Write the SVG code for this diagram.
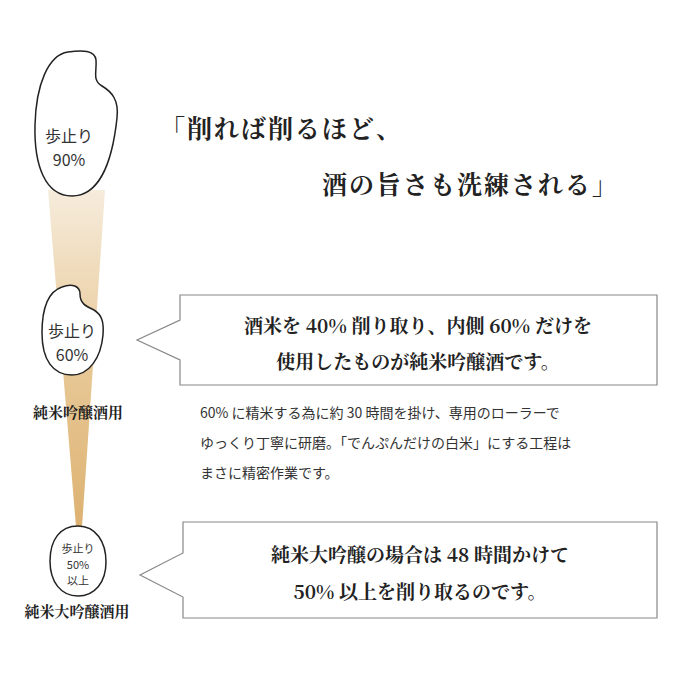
<svg xmlns="http://www.w3.org/2000/svg" width="700" height="700" viewBox="0 0 700 700">
<defs>
<linearGradient id="fg" x1="0" y1="0" x2="0" y2="1">
<stop offset="0" stop-color="#f6ecdc"/><stop offset="0.5" stop-color="#e8c998"/><stop offset="1" stop-color="#ddb272"/>
</linearGradient>
<style>
.g{fill:#fff;stroke:#222;stroke-width:1.5}
.gt{font-family:"Noto Sans CJK JP","Noto Sans",sans-serif;fill:#333;text-anchor:middle}
.b{font-family:"Noto Sans CJK JP","Noto Sans",sans-serif;fill:#333;font-size:14px}
.s{font-family:"Noto Serif CJK JP","Noto Sans CJK JP",serif;fill:#222}
.m{text-anchor:middle}
.c{fill:#fff;stroke:#888;stroke-width:1.2}
</style>
</defs>
<rect width="700" height="700" fill="#fff"/>
<polygon points="48,190 105,190 82,527 76,527" fill="url(#fg)"/>
<g id="grain1">
<path class="g" d="M68,52 C82,50 95,50 96,60 C97,72 92,80 102,86 C112,92 119,100 117,118 C112,165 98,196 72,196 C45,196 34,165 35,125 C36,85 48,55 68,52 Z"/>
<text class="gt" x="69" y="142" font-size="16">歩止り</text>
<text class="gt" x="69" y="166" font-size="16">90%</text>
</g>
<g id="grain2">
<path class="g" d="M62,287 C72,283 80,286 80,294 C80,303 85,306 94,310 C102,315 104,322 103,335 C101,358 89,375 72,375 C53,375 42,360 42,333 C42,305 50,291 62,287 Z"/>
<text class="gt" x="72" y="337" font-size="16">歩止り</text>
<text class="gt" x="72" y="361" font-size="16">60%</text>
<text class="s m" x="78" y="418" font-size="15" font-weight="bold">純米吟醸酒用</text>
</g>
<g id="grain3">
<path class="g" d="M78,526 C96,526 106,542 106,562 C106,582 95,596 78,596 C61,596 50,582 50,561 C50,540 60,526 78,526 Z"/>
<text class="gt" x="78" y="553" font-size="11">歩止り</text>
<text class="gt" x="78" y="569" font-size="11">50%</text>
<text class="gt" x="78" y="585" font-size="11">以上</text>
<text class="s m" x="77" y="617" font-size="15" font-weight="bold">純米大吟醸酒用</text>
</g>
<g id="title">
<text class="s" x="160" y="138" font-size="25" font-weight="bold" letter-spacing="2">「削れば削るほど、</text>
<text class="s" x="322" y="194" font-size="25" font-weight="bold" letter-spacing="2">酒の旨さも洗練される」</text>
</g>
<g id="callout1">
<path class="c" d="M180,295 H657 V385 H180 V360 L137,340 L180,320 Z"/>
<text class="s m" x="418" y="333" font-size="19" font-weight="bold">酒米を 40% 削り取り、内側 60% だけを</text>
<text class="s m" x="418" y="369" font-size="19" font-weight="bold">使用したものが純米吟醸酒です。</text>
</g>
<g id="body">
<text class="b" x="200" y="418">60% に精米する為に約 30 時間を掛け、専用のローラーで</text>
<text class="b" x="200" y="448">ゆっくり丁寧に研磨。「でんぷんだけの白米」にする工程は</text>
<text class="b" x="200" y="478">まさに精密作業です。</text>
</g>
<g id="callout2">
<path class="c" d="M183,522 H657 V618 H183 V597 L140,575 L183,553 Z"/>
<text class="s m" x="420" y="562" font-size="19" font-weight="bold">純米大吟醸の場合は 48 時間かけて</text>
<text class="s m" x="420" y="599" font-size="19" font-weight="bold">50% 以上を削り取るのです。</text>
</g>
</svg>
